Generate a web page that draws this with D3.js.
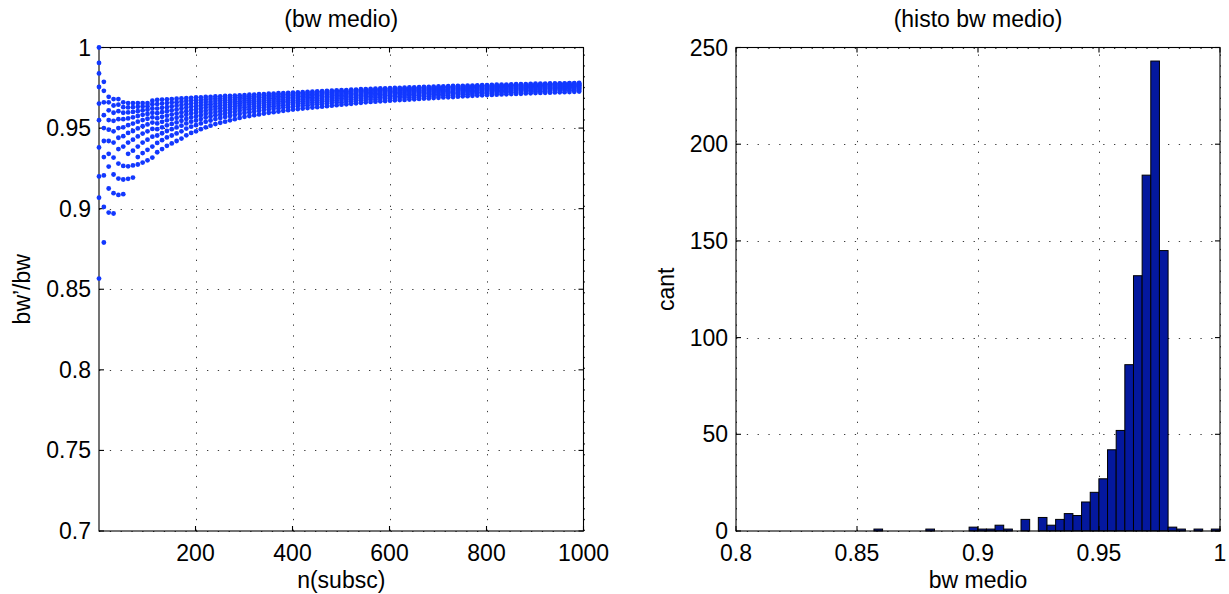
<!DOCTYPE html>
<html><head><meta charset="utf-8">
<script src="https://cdn.jsdelivr.net/npm/d3@7"></script>
<style>
body{margin:0;background:#fff}
svg{display:block}
text{font-family:"Liberation Sans",Arial,Helvetica,sans-serif;fill:#000}
</style>
</head><body>
<svg id="chart" width="1229" height="594"></svg>
<script>
// ---------- data: left panel (scatter) ----------
const scatterTitle = "(bw medio)";
const scatterXLabel = "n(subsc)";
const scatterYLabel = "bw\u2019/bw";
const scatterXDomain = [1, 1000];
const scatterYDomain = [0.7, 1];
const scatterXTicks = [200, 400, 600, 800, 1000];
const scatterYTicks = [0.7, 0.75, 0.8, 0.85, 0.9, 0.95, 1];
// n(subsc) values of the columns
const nSubsc = [
1,11,21,31,41,51,61,71,81,91,101,111,121,131,141,151,161,171,181,191,
201,211,221,231,241,251,261,271,281,291,301,311,321,331,341,351,361,371,381,391,
401,411,421,431,441,451,461,471,481,491,501,511,521,531,541,551,561,571,581,591,
601,611,621,631,641,651,661,671,681,691,701,711,721,731,741,751,761,771,781,791,
801,811,821,831,841,851,861,871,881,891,901,911,921,931,941,951,961,971,981,991
];
// bw'/bw: one line per column of nSubsc, ten points each
const bwRatio = [
[1.0000,0.9904,0.9839,0.9755,0.9652,0.9549,0.9380,0.9200,0.9068,0.8566],
[0.9787,0.9731,0.9660,0.9580,0.9500,0.9420,0.9320,0.9206,0.9011,0.8790],
[0.9694,0.9660,0.9610,0.9550,0.9490,0.9420,0.9340,0.9261,0.9125,0.8976],
[0.9680,0.9640,0.9595,0.9545,0.9480,0.9410,0.9317,0.9212,0.9096,0.8970],
[0.9680,0.9645,0.9605,0.9555,0.9500,0.9440,0.9370,0.9280,0.9187,0.9085],
[0.9660,0.9630,0.9595,0.9555,0.9505,0.9450,0.9385,0.9265,0.9181,0.9090],
[0.9655,0.9628,0.9597,0.9560,0.9518,0.9470,0.9410,0.9340,0.9263,0.9185],
[0.9655,0.9630,0.9600,0.9567,0.9528,0.9482,0.9428,0.9360,0.9268,0.9193],
[0.9655,0.9632,0.9605,0.9575,0.9540,0.9498,0.9448,0.9385,0.9320,0.9274],
[0.9655,0.9634,0.9610,0.9582,0.9550,0.9512,0.9466,0.9410,0.9345,0.9286],
[0.9655,0.9636,0.9614,0.9588,0.9558,0.9523,0.9480,0.9428,0.9365,0.9300],
[0.9670,0.9648,0.9622,0.9595,0.9567,0.9534,0.9495,0.9447,0.9385,0.9317],
[0.9675,0.9649,0.9621,0.9592,0.9561,0.9529,0.9493,0.9454,0.9408,0.9350],
[0.9677,0.9652,0.9626,0.9599,0.9570,0.9539,0.9505,0.9468,0.9425,0.9370],
[0.9678,0.9655,0.9630,0.9605,0.9577,0.9548,0.9517,0.9482,0.9442,0.9390],
[0.9680,0.9658,0.9635,0.9610,0.9584,0.9556,0.9526,0.9493,0.9454,0.9405],
[0.9682,0.9661,0.9639,0.9615,0.9590,0.9564,0.9535,0.9504,0.9467,0.9420],
[0.9684,0.9664,0.9643,0.9621,0.9597,0.9572,0.9545,0.9515,0.9480,0.9435],
[0.9686,0.9668,0.9648,0.9627,0.9605,0.9582,0.9557,0.9529,0.9497,0.9455],
[0.9688,0.9671,0.9652,0.9632,0.9612,0.9590,0.9566,0.9540,0.9509,0.9470],
[0.9690,0.9673,0.9655,0.9636,0.9616,0.9595,0.9572,0.9547,0.9518,0.9480],
[0.9691,0.9675,0.9658,0.9641,0.9622,0.9602,0.9580,0.9556,0.9529,0.9493],
[0.9693,0.9678,0.9662,0.9645,0.9627,0.9608,0.9588,0.9565,0.9539,0.9505],
[0.9694,0.9680,0.9664,0.9648,0.9631,0.9613,0.9594,0.9572,0.9547,0.9515],
[0.9696,0.9682,0.9668,0.9652,0.9636,0.9619,0.9600,0.9580,0.9556,0.9525],
[0.9697,0.9684,0.9670,0.9655,0.9640,0.9623,0.9605,0.9585,0.9563,0.9533],
[0.9699,0.9686,0.9673,0.9658,0.9643,0.9627,0.9610,0.9591,0.9569,0.9540],
[0.9700,0.9688,0.9675,0.9661,0.9647,0.9632,0.9615,0.9597,0.9575,0.9548],
[0.9702,0.9690,0.9678,0.9665,0.9651,0.9636,0.9620,0.9602,0.9581,0.9555],
[0.9703,0.9692,0.9680,0.9667,0.9654,0.9640,0.9625,0.9608,0.9588,0.9563],
[0.9705,0.9694,0.9683,0.9671,0.9658,0.9644,0.9629,0.9613,0.9594,0.9570],
[0.9707,0.9696,0.9685,0.9673,0.9661,0.9648,0.9633,0.9617,0.9599,0.9575],
[0.9708,0.9698,0.9687,0.9675,0.9663,0.9650,0.9636,0.9621,0.9603,0.9580],
[0.9710,0.9700,0.9689,0.9678,0.9666,0.9654,0.9640,0.9625,0.9607,0.9585],
[0.9711,0.9701,0.9691,0.9680,0.9669,0.9657,0.9643,0.9629,0.9612,0.9590],
[0.9713,0.9704,0.9694,0.9683,0.9672,0.9660,0.9647,0.9633,0.9616,0.9595],
[0.9714,0.9705,0.9695,0.9685,0.9674,0.9662,0.9650,0.9636,0.9620,0.9599],
[0.9716,0.9707,0.9697,0.9687,0.9676,0.9665,0.9653,0.9639,0.9623,0.9603],
[0.9717,0.9708,0.9699,0.9689,0.9678,0.9667,0.9655,0.9642,0.9627,0.9607],
[0.9719,0.9710,0.9701,0.9691,0.9681,0.9670,0.9659,0.9646,0.9630,0.9611],
[0.9720,0.9712,0.9703,0.9693,0.9683,0.9673,0.9661,0.9649,0.9634,0.9615],
[0.9722,0.9714,0.9705,0.9695,0.9686,0.9675,0.9664,0.9651,0.9637,0.9618],
[0.9723,0.9715,0.9706,0.9697,0.9687,0.9677,0.9666,0.9654,0.9639,0.9621],
[0.9725,0.9717,0.9708,0.9699,0.9690,0.9680,0.9668,0.9656,0.9642,0.9624],
[0.9726,0.9718,0.9710,0.9701,0.9691,0.9681,0.9671,0.9659,0.9645,0.9627],
[0.9728,0.9720,0.9712,0.9703,0.9694,0.9684,0.9673,0.9661,0.9648,0.9630],
[0.9729,0.9721,0.9713,0.9705,0.9695,0.9686,0.9675,0.9664,0.9650,0.9633],
[0.9731,0.9723,0.9715,0.9707,0.9698,0.9688,0.9678,0.9666,0.9653,0.9636],
[0.9732,0.9725,0.9717,0.9708,0.9699,0.9690,0.9680,0.9669,0.9656,0.9639],
[0.9734,0.9727,0.9719,0.9711,0.9702,0.9693,0.9682,0.9671,0.9659,0.9642],
[0.9735,0.9728,0.9720,0.9712,0.9703,0.9694,0.9685,0.9674,0.9661,0.9645],
[0.9736,0.9729,0.9721,0.9714,0.9705,0.9696,0.9687,0.9676,0.9664,0.9648],
[0.9738,0.9731,0.9724,0.9716,0.9708,0.9699,0.9689,0.9679,0.9667,0.9651],
[0.9739,0.9732,0.9725,0.9717,0.9709,0.9701,0.9691,0.9681,0.9669,0.9654],
[0.9741,0.9734,0.9727,0.9720,0.9712,0.9703,0.9694,0.9684,0.9672,0.9657],
[0.9742,0.9735,0.9728,0.9721,0.9713,0.9705,0.9696,0.9686,0.9675,0.9660],
[0.9743,0.9737,0.9730,0.9722,0.9715,0.9707,0.9698,0.9688,0.9677,0.9662],
[0.9744,0.9738,0.9731,0.9724,0.9716,0.9708,0.9699,0.9690,0.9678,0.9664],
[0.9746,0.9740,0.9733,0.9726,0.9718,0.9710,0.9701,0.9692,0.9680,0.9666],
[0.9747,0.9741,0.9734,0.9727,0.9719,0.9711,0.9703,0.9693,0.9682,0.9668],
[0.9748,0.9742,0.9735,0.9728,0.9721,0.9713,0.9704,0.9695,0.9684,0.9670],
[0.9749,0.9743,0.9736,0.9729,0.9722,0.9714,0.9706,0.9697,0.9686,0.9672],
[0.9750,0.9744,0.9737,0.9731,0.9723,0.9716,0.9707,0.9698,0.9688,0.9674],
[0.9751,0.9745,0.9738,0.9732,0.9724,0.9717,0.9708,0.9699,0.9689,0.9675],
[0.9752,0.9746,0.9740,0.9733,0.9726,0.9718,0.9710,0.9701,0.9690,0.9677],
[0.9753,0.9747,0.9741,0.9734,0.9727,0.9720,0.9712,0.9703,0.9692,0.9679],
[0.9754,0.9748,0.9742,0.9735,0.9728,0.9721,0.9713,0.9704,0.9694,0.9681],
[0.9755,0.9749,0.9743,0.9737,0.9730,0.9723,0.9715,0.9706,0.9696,0.9683],
[0.9756,0.9750,0.9744,0.9738,0.9731,0.9724,0.9716,0.9707,0.9697,0.9684],
[0.9757,0.9751,0.9745,0.9739,0.9732,0.9725,0.9717,0.9709,0.9699,0.9686],
[0.9758,0.9752,0.9746,0.9740,0.9733,0.9726,0.9719,0.9710,0.9701,0.9688],
[0.9759,0.9753,0.9748,0.9741,0.9735,0.9728,0.9720,0.9712,0.9702,0.9690],
[0.9760,0.9754,0.9749,0.9742,0.9736,0.9729,0.9721,0.9713,0.9703,0.9691],
[0.9761,0.9756,0.9750,0.9744,0.9737,0.9730,0.9723,0.9715,0.9705,0.9693],
[0.9762,0.9757,0.9751,0.9745,0.9739,0.9732,0.9724,0.9716,0.9707,0.9695],
[0.9762,0.9757,0.9751,0.9745,0.9739,0.9733,0.9726,0.9718,0.9709,0.9697],
[0.9763,0.9758,0.9752,0.9746,0.9740,0.9734,0.9727,0.9719,0.9710,0.9698],
[0.9764,0.9759,0.9753,0.9748,0.9742,0.9735,0.9728,0.9720,0.9712,0.9700],
[0.9765,0.9760,0.9755,0.9749,0.9743,0.9737,0.9730,0.9722,0.9713,0.9702],
[0.9766,0.9761,0.9756,0.9750,0.9744,0.9738,0.9731,0.9723,0.9714,0.9703],
[0.9767,0.9762,0.9757,0.9751,0.9745,0.9739,0.9732,0.9725,0.9716,0.9705],
[0.9768,0.9763,0.9758,0.9752,0.9746,0.9740,0.9733,0.9726,0.9717,0.9706],
[0.9769,0.9764,0.9759,0.9753,0.9747,0.9741,0.9734,0.9727,0.9718,0.9707],
[0.9769,0.9764,0.9759,0.9754,0.9748,0.9742,0.9735,0.9728,0.9720,0.9709],
[0.9770,0.9765,0.9760,0.9755,0.9749,0.9743,0.9736,0.9729,0.9721,0.9710],
[0.9771,0.9766,0.9761,0.9756,0.9750,0.9744,0.9737,0.9730,0.9722,0.9711],
[0.9772,0.9767,0.9762,0.9757,0.9751,0.9745,0.9738,0.9731,0.9723,0.9712],
[0.9773,0.9768,0.9763,0.9758,0.9752,0.9746,0.9739,0.9732,0.9724,0.9713],
[0.9773,0.9768,0.9763,0.9758,0.9753,0.9747,0.9741,0.9734,0.9725,0.9715],
[0.9774,0.9769,0.9764,0.9759,0.9754,0.9748,0.9742,0.9735,0.9726,0.9716],
[0.9775,0.9770,0.9765,0.9760,0.9755,0.9749,0.9743,0.9736,0.9727,0.9717],
[0.9776,0.9771,0.9766,0.9761,0.9756,0.9750,0.9744,0.9737,0.9728,0.9718],
[0.9776,0.9771,0.9767,0.9761,0.9756,0.9750,0.9744,0.9737,0.9729,0.9719],
[0.9777,0.9772,0.9768,0.9762,0.9757,0.9751,0.9745,0.9738,0.9730,0.9720],
[0.9777,0.9773,0.9768,0.9763,0.9757,0.9752,0.9746,0.9739,0.9731,0.9721],
[0.9778,0.9774,0.9769,0.9764,0.9758,0.9753,0.9747,0.9740,0.9732,0.9722],
[0.9778,0.9774,0.9769,0.9764,0.9759,0.9753,0.9747,0.9741,0.9733,0.9723],
[0.9779,0.9775,0.9770,0.9765,0.9760,0.9754,0.9748,0.9742,0.9734,0.9724],
[0.9779,0.9775,0.9770,0.9765,0.9760,0.9755,0.9749,0.9742,0.9735,0.9725],
[0.9780,0.9776,0.9771,0.9766,0.9761,0.9756,0.9750,0.9744,0.9737,0.9727]
];

// ---------- data: right panel (histogram, 40 equal bins) ----------
const histTitle = "(histo bw medio)";
const histXLabel = "bw medio";
const histYLabel = "cant";
const histBinRange = [0.857, 1.0];
const histCounts = [1,0,0,0,0,0,1,0,0,0, 0,2,1,1,3,1,0,6,0,7, 3,6,9,8,15,20,27,42,52,86, 132,184,243,145,2,1,0,1,0,1];
const histXDomain = [0.8, 1];
const histYDomain = [0, 250];
const histXTicks = [0.8, 0.85, 0.9, 0.95, 1];
const histYTicks = [0, 50, 100, 150, 200, 250];

// ---------- drawing ----------
const svg = d3.select("#chart");
const FS = 23;
const plotTop = 47.5, plotBottom = 531;

function frame(g, x, y, xTicks, yTicks) {
  const [x0, x1] = x.range();
  const [y0, y1] = y.range();
  const grid = g.append("g").attr("stroke", "#3a3a3a").attr("stroke-width", 1)
    .attr("stroke-dasharray", "1.3,9.5").attr("fill", "none");
  xTicks.forEach(t => {
    const px = Math.round(x(t)) + 0.5;
    grid.append("line").attr("x1", px).attr("x2", px).attr("y1", y0).attr("y2", y1);
  });
  yTicks.forEach(t => {
    const py = Math.round(y(t)) + 0.5;
    grid.append("line").attr("y1", py).attr("y2", py).attr("x1", x0).attr("x2", x1);
  });
}

function axesBox(g, x, y, xTicks, yTicks, fmtX, fmtY) {
  const [x0, x1] = x.range();
  const [y0, y1] = y.range();
  const tl = 5;
  const ax = g.append("g").attr("stroke", "#000").attr("stroke-width", 1.1).attr("fill", "none");
  ax.append("rect").attr("x", x0).attr("y", y1).attr("width", x1 - x0).attr("height", y0 - y1);
  xTicks.forEach(t => {
    const px = x(t);
    ax.append("line").attr("x1", px).attr("x2", px).attr("y1", y0).attr("y2", y0 - tl);
    ax.append("line").attr("x1", px).attr("x2", px).attr("y1", y1).attr("y2", y1 + tl);
  });
  yTicks.forEach(t => {
    const py = y(t);
    ax.append("line").attr("y1", py).attr("y2", py).attr("x1", x0).attr("x2", x0 + tl);
    ax.append("line").attr("y1", py).attr("y2", py).attr("x1", x1).attr("x2", x1 - tl);
  });
  g.append("g").selectAll("text").data(xTicks).join("text")
    .attr("x", d => x(d)).attr("y", y0 + 30).attr("text-anchor", "middle")
    .attr("font-size", FS).text(fmtX);
  g.append("g").selectAll("text").data(yTicks).join("text")
    .attr("x", x0 - 8).attr("y", d => y(d) + 8).attr("text-anchor", "end")
    .attr("font-size", FS).text(fmtY);
}

function labels(g, x, y, title, xl, yl, ylX) {
  const [x0, x1] = x.range();
  const [y0, y1] = y.range();
  const cx = (x0 + x1) / 2;
  g.append("text").attr("x", cx).attr("y", 27).attr("text-anchor", "middle").attr("font-size", FS).text(title);
  g.append("text").attr("x", cx).attr("y", 588).attr("text-anchor", "middle").attr("font-size", FS).text(xl);
  g.append("text").attr("transform", `translate(${ylX},${(y0 + y1) / 2}) rotate(-90)`)
    .attr("text-anchor", "middle").attr("font-size", FS).text(yl);
}

const fmtNum = d => String(+d.toFixed(2));

// left panel
const xL = d3.scaleLinear().domain(scatterXDomain).range([99, 583.5]);
const yL = d3.scaleLinear().domain(scatterYDomain).range([plotBottom, plotTop]);
const gL = svg.append("g");
frame(gL, xL, yL, scatterXTicks, scatterYTicks);
axesBox(gL, xL, yL, scatterXTicks, scatterYTicks, d => d, fmtNum);
labels(gL, xL, yL, scatterTitle, scatterXLabel, scatterYLabel, 30);
const points = nSubsc.flatMap((n, c) => bwRatio[c].map(v => ({ n, v })));
gL.append("g").attr("fill", "#1238ff").selectAll("circle")
  .data(points).join("circle")
  .attr("cx", d => xL(d.n)).attr("cy", d => yL(d.v)).attr("r", 2.4);

// right panel
const xR = d3.scaleLinear().domain(histXDomain).range([736, 1220]);
const yR = d3.scaleLinear().domain(histYDomain).range([plotBottom, plotTop]);
const gR = svg.append("g");
frame(gR, xR, yR, histXTicks, histYTicks);
const binW = (histBinRange[1] - histBinRange[0]) / histCounts.length;
gR.append("g").selectAll("rect").data(histCounts).join("rect")
  .attr("x", (d, i) => xR(histBinRange[0] + i * binW))
  .attr("width", (d, i) => xR(histBinRange[0] + (i + 1) * binW) - xR(histBinRange[0] + i * binW))
  .attr("y", d => yR(d)).attr("height", d => yR(0) - yR(d))
  .attr("fill", "#04189e").attr("stroke", "#000").attr("stroke-width", 1);
axesBox(gR, xR, yR, histXTicks, histYTicks, fmtNum, d => d);
labels(gR, xR, yR, histTitle, histXLabel, histYLabel, 674);
</script>
</body></html>
